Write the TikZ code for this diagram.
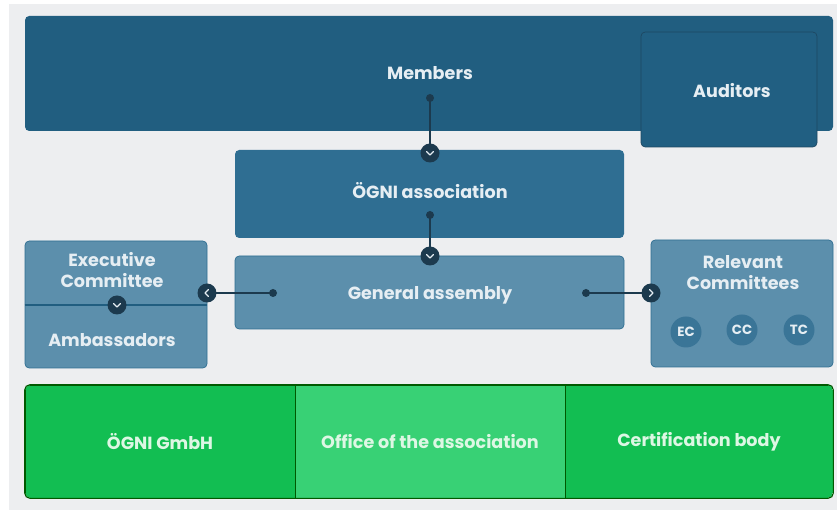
\documentclass[tikz,border=0pt]{standalone}
\usepackage{fontspec}
\setmainfont{Poppins}
\usetikzlibrary{positioning}

\definecolor{backgray}{HTML}{EDEEF0}
\definecolor{memblue}{HTML}{215E80}
\definecolor{audblue}{HTML}{215F82}
\definecolor{assocblue}{HTML}{2F6E92}
\definecolor{lightblue}{HTML}{5C8FAC}
\definecolor{circblue}{HTML}{3A7597}
\definecolor{knobblue}{HTML}{1C3A4E}
\definecolor{boxtext}{HTML}{E6EEF3}
\definecolor{darkgreen}{HTML}{12BE52}
\definecolor{lightgreen}{HTML}{38D175}
\definecolor{greentext}{HTML}{DDF7E4}
\def\unitpx{0.025cm}

\newcommand\knob[3]{%
  \node[knob] (#1) at #2 {};
  \draw[chev, shift={(#1.center)}, rotate=#3] (-3.5,-1.5) -- (0,2) -- (3.5,-1.5);
}

\begin{document}
\begin{tikzpicture}[x=0.025cm, y=-0.025cm,
    box/.style={rectangle, rounded corners=3pt, fill=#1, inner sep=0pt},
    boxtext/.style={text=boxtext, font=\bfseries\fontsize{12.5}{15}\selectfont, align=center},
    greenbox/.style={rectangle, fill=#1, draw=green!35!black, line width=0.6pt, inner sep=0pt,
      minimum height=113*\unitpx, text=greentext, font=\bfseries\fontsize{12.5}{15}\selectfont},
    committee/.style={circle, fill=circblue, minimum size=31*\unitpx, inner sep=0pt,
      text=boxtext, font=\bfseries\fontsize{9.5}{10}\selectfont},
    knob/.style={circle, fill=knobblue, minimum size=19*\unitpx, inner sep=0pt},
    chev/.style={draw=boxtext, line width=0.8pt, line cap=round, line join=round},
    dot/.style={circle, fill=knobblue, minimum size=8*\unitpx, inner sep=0pt},
    link/.style={draw=knobblue, line width=1.3pt}
  ]
  \fill[white] (0,0) rectangle (837,510);
  \fill[backgray] (9,4) rectangle (837,510);
  \useasboundingbox (0,0) rectangle (837,510);

  \node[box=memblue, minimum width=808*\unitpx, minimum height=115*\unitpx] (members) at (429,73.5) {};
  \node[boxtext] at (430,73) {Members};
  \node[box=audblue, draw=knobblue!60!memblue, line width=0.5pt, minimum width=176*\unitpx, minimum height=115*\unitpx] (auditors) at (729,89.5) {};
  \node[boxtext] at (732,91) {Auditors};

  \node[box=assocblue, minimum width=389*\unitpx, minimum height=88*\unitpx] (assoc) at (429.5,194) {};
  \node[boxtext] at (430,191) {ÖGNI association};

  \node[box=lightblue, draw=assocblue, line width=0.5pt, minimum width=389*\unitpx, minimum height=73*\unitpx] (assembly) at (429.5,292.5) {};
  \node[boxtext] at (430,295) {General assembly};

  \node[box=lightblue, draw=assocblue, line width=0.5pt, minimum width=182*\unitpx, minimum height=127*\unitpx] (exec) at (116,304.5) {};
  \node[boxtext] at (112,270) {Executive\\Committee};
  \node[boxtext] at (112,340) {Ambassadors};
  \draw[draw=memblue, line width=1pt] (exec.west |- 0,305) -- (exec.east |- 0,305);

  \node[box=lightblue, draw=assocblue, line width=0.5pt, minimum width=182*\unitpx, minimum height=127*\unitpx] (relevant) at (742,303.5) {};
  \node[boxtext] at (743,273) {Relevant\\Committees};
  \node[committee] (ec) at (686,332) {EC};
  \node[committee] (cc) at (742,330) {CC};
  \node[committee] (tc) at (799,330) {TC};

  \begin{scope}
    \clip[rounded corners=4pt] (25,385) rectangle (833,498);
    \node[greenbox=darkgreen, minimum width=270*\unitpx] (gmbh) at (160,441.5) {ÖGNI GmbH};
    \node[greenbox=lightgreen, minimum width=270*\unitpx] (office) at (430,441.5) {Office of the association};
    \node[greenbox=darkgreen, minimum width=268*\unitpx] (cert) at (699,441.5) {Certification body};
  \end{scope}
  \draw[green!35!black, line width=0.8pt, rounded corners=4pt] (gmbh.north west) rectangle (cert.south east);

  \node[dot] (m1) at (430,98) {};
  \node[dot] (a1) at (430,215) {};
  \node[dot] (g1) at (273,293) {};
  \node[dot] (g2) at (586,293) {};
  \draw[link] (430,98) -- (430,153);
  \draw[link] (430,215) -- (430,256);
  \draw[link] (273,293) -- (207,293);
  \draw[link] (586,293) -- (651,293);
  \knob{k1}{(430,153)}{0}
  \knob{k2}{(430,256)}{0}
  \knob{k3}{(207,293)}{-90}
  \knob{k4}{(651,293)}{90}
  \knob{k5}{(117,305)}{0}
\end{tikzpicture}
\end{document}
